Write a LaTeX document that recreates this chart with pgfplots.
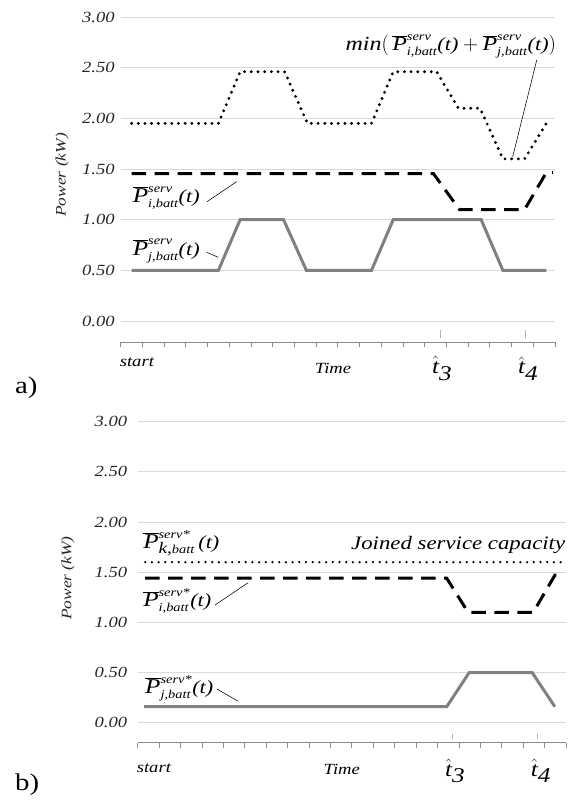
\documentclass[border=0pt]{standalone}
\usepackage{fontspec}
\setmainfont{Liberation Serif}[FakeStretch=1.2]
\usepackage{pgfplots}
\pgfplotsset{compat=1.18}

\newcommand{\PB}[2]{{\fontsize{21}{21}\selectfont$\overline{\hbox{\itshape P}}^{\hbox{\fontsize{12}{12}\selectfont\itshape #1}}_{\hbox{\fontsize{12}{12}\selectfont\itshape #2}}$\hbox{\fontsize{18.5}{18.5}\selectfont\itshape(t)}}}
\newcommand{\PBm}[2]{\overline{\hbox{\itshape P}}^{\hbox{\fontsize{12}{12}\selectfont\itshape #1}}_{\hbox{\fontsize{12}{12}\selectfont\itshape #2}}\hbox{\fontsize{18.5}{18.5}\selectfont\itshape(t)}}
\newcommand{\that}[1]{{\fontsize{21}{21}\selectfont$\hat{\hbox{\itshape t}}_{\hbox{\itshape #1}}$}}

\tikzset{
  dotline/.style={black, line width=3.2pt, line cap=round, dash pattern=on 0pt off 6.7pt},
  dashline/.style={black, line width=3pt, dash pattern=on 14.5pt off 8.5pt},
  greyline/.style={black!50, line width=3pt},
  lead/.style={black, line width=0.55pt},
}
\pgfplotsset{
  panel/.style={
    scale only axis, xmin=0, xmax=20, clip=false,
    axis x line=bottom, axis y line=left,
    x axis line style={draw=black!45, line width=1pt, -},
    y axis line style={draw=none},
    xtick={0,...,20}, xticklabels={},
    xtick style={draw=black!45, line width=0.8pt},
    xtick align=outside, major tick length=5pt,
    ytick={0,0.5,1,1.5,2,2.5,3},
    yticklabels={0.00,0.50,1.00,1.50,2.00,2.50,3.00},
    ytick style={draw=none},
    yticklabel style={font=\fontsize{15.5}{15.5}\selectfont\itshape, text=black!85},
    ymajorgrids, grid style={draw=black!15, line width=0.9pt},
    ylabel={Power (kW)},
    ylabel style={font=\fontsize{14.5}{14.5}\selectfont\itshape, text=black!85, anchor=center},
  },
}

\begin{document}
\begin{tikzpicture}
\path[use as bounding box] (0,0) rectangle (576pt,-800pt);

% ---------- panel a ----------
\begin{axis}[panel, at={(120.7pt,-342pt)}, anchor=south west,
  width=434.3pt, height=325pt, ymin=-0.207, ymax=3.0,
  ylabel style={at={(axis description cs:-0.135,0.514)}}]
\addplot[dotline] coordinates {(0.5,1.95) (4.5,1.95) (5.5,2.46) (7.55,2.46) (8.6,1.95) (11.55,1.95) (12.55,2.46) (14.55,2.46) (15.55,2.10) (16.55,2.10) (17.6,1.60) (18.6,1.60) (19.6,1.95)};
\addplot[dashline] coordinates {(0.5,1.455) (14.4,1.455) (15.6,1.10) (18.6,1.10) (19.6,1.465) (19.9,1.465)};
\addplot[greyline] coordinates {(0.5,0.5) (4.5,0.5) (5.5,1.0) (7.5,1.0) (8.55,0.5) (11.55,0.5) (12.55,1.0) (16.6,1.0) (17.6,0.5) (19.6,0.5)};
\draw[black!30, line width=0.8pt] (axis cs:14.70,-0.089) -- (axis cs:14.70,-0.168);
\draw[black!30, line width=0.8pt] (axis cs:18.65,-0.089) -- (axis cs:18.65,-0.168);
\node[anchor=west, inner sep=0pt] at (axis cs:0.55,1.21) {\PB{serv}{i,batt}};
\draw[lead] (axis cs:3.97,1.177) -- (axis cs:5.34,1.375);
\node[anchor=west, inner sep=0pt] at (axis cs:0.55,0.69) {\PB{serv}{j,batt}};
\draw[lead] (axis cs:3.96,0.678) -- (axis cs:4.49,0.629);
\node[inner sep=0pt] at (axis cs:15.2,2.71) {\fontsize{20}{20}\selectfont$\hbox{\itshape min}\biggl(\,\PBm{serv}{i,batt}+\PBm{serv}{j,batt}\biggr)$};
\draw[lead] (axis cs:19.16,2.576) -- (axis cs:18.05,1.62);
\node[anchor=west, inner sep=0pt, font=\fontsize{15.5}{15.5}\selectfont\itshape] at (axis cs:-0.05,-0.405) {start};
\node[inner sep=0pt, font=\fontsize{15.5}{15.5}\selectfont\itshape] at (axis cs:9.78,-0.464) {Time};
\node[inner sep=0pt] at (axis cs:14.8,-0.47) {\that{3}};
\node[inner sep=0pt] at (axis cs:18.76,-0.47) {\that{4}};
\end{axis}
\node[anchor=base west, inner sep=0pt, font=\fontsize{24}{24}\selectfont] at (15pt,-393pt) {a)};

% ---------- panel b ----------
\begin{axis}[panel, at={(137.7pt,-742.7pt)}, anchor=south west,
  width=428.3pt, height=321pt, ymin=-0.199, ymax=3.0,
  yticklabel style={xshift=-4.5pt},
  ylabel style={at={(axis description cs:-0.163,0.513)}}]
\addplot[dotline, line width=2.5pt] coordinates {(0.35,1.60) (19.95,1.60)};
\addplot[dashline] coordinates {(0.35,1.44) (14.43,1.44) (15.43,1.10) (18.47,1.10) (19.48,1.47) (19.8,1.47)};
\addplot[greyline] coordinates {(0.3,0.16) (14.43,0.16) (15.48,0.50) (18.42,0.50) (19.48,0.16)};
\draw[black!30, line width=0.8pt] (axis cs:14.69,-0.113) -- (axis cs:14.69,-0.162);
\draw[black!30, line width=0.8pt] (axis cs:18.65,-0.113) -- (axis cs:18.65,-0.162);
\node[anchor=west, inner sep=0pt] at (axis cs:0.25,1.79) {{\fontsize{21}{21}\selectfont$\overline{\hbox{\itshape P}}^{\hbox{\fontsize{12}{12}\selectfont\itshape serv*}}_{\hbox{\fontsize{16}{16}\selectfont\itshape k,\fontsize{12}{12}\selectfont batt}}$\,\hbox{\fontsize{18.5}{18.5}\selectfont\itshape(t)}}};
\node[anchor=east, inner sep=0pt, font=\fontsize{19}{19}\selectfont\itshape] at (axis cs:19.97,1.77) {Joined service capacity};
\node[anchor=west, inner sep=0pt] at (axis cs:0.25,1.21) {\PB{serv*}{i,batt}};
\draw[lead] (axis cs:3.61,1.173) -- (axis cs:5.15,1.395);
\node[anchor=west, inner sep=0pt] at (axis cs:0.34,0.345) {\PB{serv*}{j,batt}};
\draw[lead] (axis cs:3.70,0.336) -- (axis cs:4.68,0.216);
\node[anchor=west, inner sep=0pt, font=\fontsize{15.5}{15.5}\selectfont\itshape] at (axis cs:-0.05,-0.45) {start};
\node[inner sep=0pt, font=\fontsize{15.5}{15.5}\selectfont\itshape] at (axis cs:9.53,-0.47) {Time};
\node[inner sep=0pt] at (axis cs:14.82,-0.48) {\that{3}};
\node[inner sep=0pt] at (axis cs:18.83,-0.48) {\that{4}};
\end{axis}
\node[anchor=base west, inner sep=0pt, font=\fontsize{24}{24}\selectfont] at (15pt,-790pt) {b)};
\end{tikzpicture}
\end{document}
